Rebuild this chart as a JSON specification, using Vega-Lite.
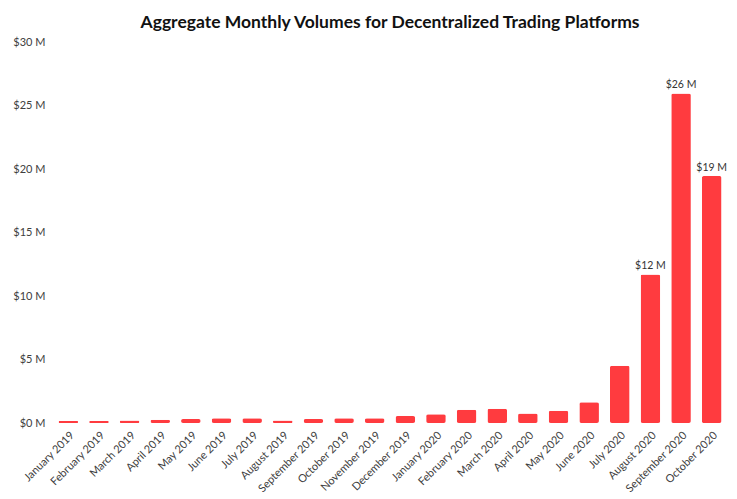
{
  "$schema": "https://vega.github.io/schema/vega-lite/v6.json",
  "autosize": "none",
  "width": 674,
  "height": 381,
  "padding": {"left": 53, "top": 42, "right": 10, "bottom": 76},
  "background": "white",
  "title": {
    "text": "Aggregate Monthly Volumes for Decentralized Trading Platforms",
    "font": "Lato",
    "fontSize": 17.5,
    "fontWeight": "bold",
    "color": "#111111",
    "anchor": "middle",
    "offset": 5
  },
  "data": {
    "values": [
      {"month": "January 2019", "volume": 0.16, "label": ""},
      {"month": "February 2019", "volume": 0.16, "label": ""},
      {"month": "March 2019", "volume": 0.2, "label": ""},
      {"month": "April 2019", "volume": 0.26, "label": ""},
      {"month": "May 2019", "volume": 0.31, "label": ""},
      {"month": "June 2019", "volume": 0.37, "label": ""},
      {"month": "July 2019", "volume": 0.37, "label": ""},
      {"month": "August 2019", "volume": 0.2, "label": ""},
      {"month": "September 2019", "volume": 0.31, "label": ""},
      {"month": "October 2019", "volume": 0.37, "label": ""},
      {"month": "November 2019", "volume": 0.37, "label": ""},
      {"month": "December 2019", "volume": 0.55, "label": ""},
      {"month": "January 2020", "volume": 0.69, "label": ""},
      {"month": "February 2020", "volume": 1.05, "label": ""},
      {"month": "March 2020", "volume": 1.13, "label": ""},
      {"month": "April 2020", "volume": 0.74, "label": ""},
      {"month": "May 2020", "volume": 0.97, "label": ""},
      {"month": "June 2020", "volume": 1.63, "label": ""},
      {"month": "July 2020", "volume": 4.5, "label": ""},
      {"month": "August 2020", "volume": 11.7, "label": "$12 M"},
      {"month": "September 2020", "volume": 25.95, "label": "$26 M"},
      {"month": "October 2020", "volume": 19.45, "label": "$19 M"}
    ]
  },
  "encoding": {
    "x": {
      "field": "month",
      "type": "ordinal",
      "sort": null,
      "scale": {"paddingInner": 0.36, "paddingOuter": 0.18},
      "axis": {
        "title": null,
        "labelAngle": -45,
        "labelAlign": "right",
        "labelBaseline": "top",
        "labelFont": "Lato",
        "labelFontSize": 11,
        "labelColor": "#404040",
        "labelPadding": 6,
        "domain": false,
        "ticks": false
      }
    },
    "y": {
      "field": "volume",
      "type": "quantitative",
      "scale": {"domain": [0, 30], "nice": false},
      "axis": {
        "title": null,
        "values": [0, 5, 10, 15, 20, 25, 30],
        "labelExpr": "'$' + datum.value + ' M'",
        "labelFont": "Lato",
        "labelFontSize": 11,
        "labelColor": "#404040",
        "labelPadding": 8,
        "domain": false,
        "ticks": false,
        "grid": false
      }
    }
  },
  "layer": [
    {
      "mark": {"type": "bar", "color": "#FF3B3F", "cornerRadius": 2}
    },
    {
      "mark": {"type": "text", "dy": -8, "font": "Lato", "fontSize": 10.5, "color": "#333333"},
      "encoding": {"text": {"field": "label"}}
    }
  ],
  "config": {"view": {"stroke": null}}
}
